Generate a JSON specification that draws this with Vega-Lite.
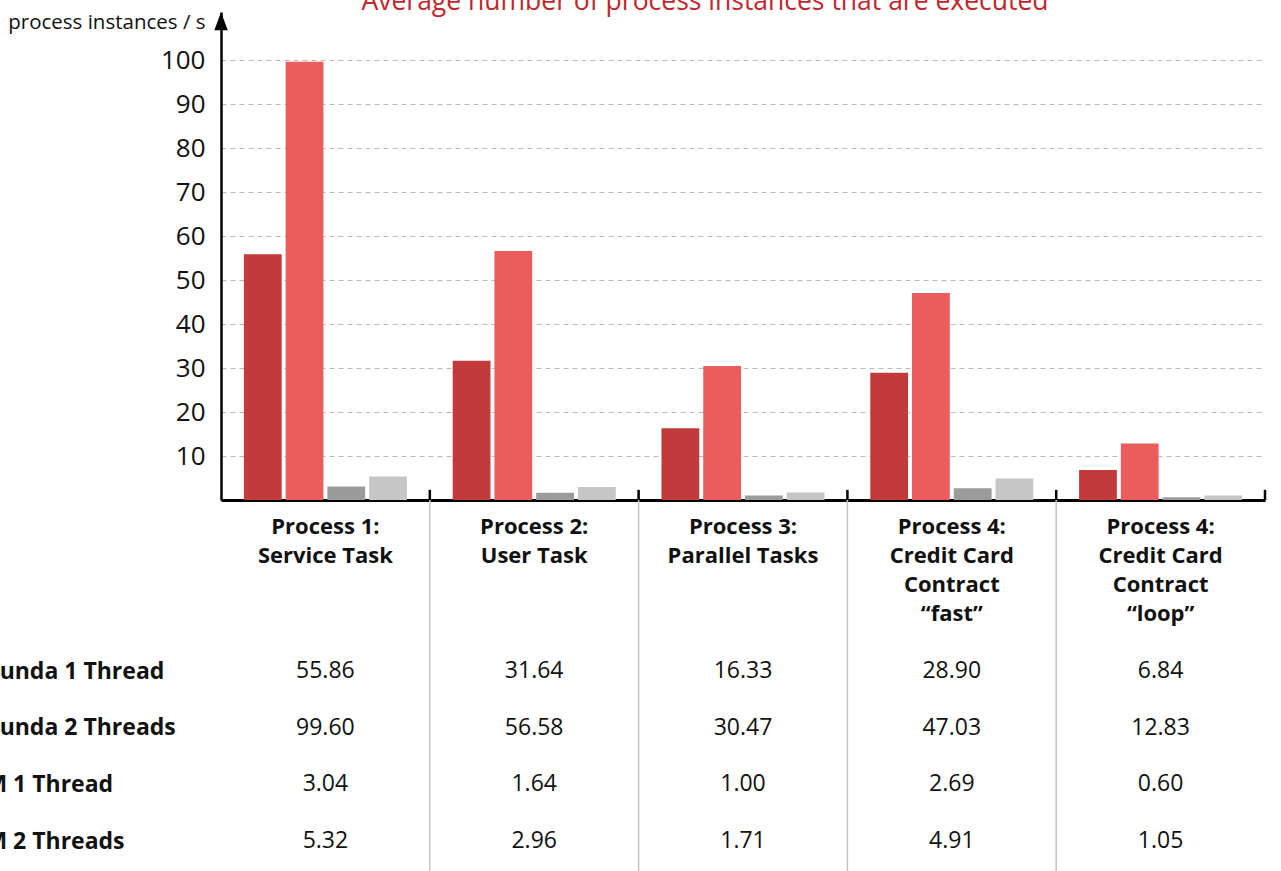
{
  "$schema": "https://vega.github.io/schema/vega-lite/v6.json",
  "autosize": {"type": "none"},
  "padding": {"left": 221, "top": 12, "right": 16, "bottom": 371},
  "width": 1044,
  "height": 488,
  "background": "white",
  "config": {"view": {"stroke": null}, "font": "Open Sans"},
  "title": {"text": "Average number of process instances that are executed", "color": "#C1272D", "fontSize": 26.5, "fontWeight": "normal", "font": "Open Sans", "anchor": "middle", "dx": -38, "offset": -3},
  "datasets": {
    "main": [
      {"cat": "Process 1:|Service Task", "series": "Camunda 1 Thread", "value": 55.86},
      {"cat": "Process 1:|Service Task", "series": "Camunda 2 Threads", "value": 99.60},
      {"cat": "Process 1:|Service Task", "series": "jBPM 1 Thread", "value": 3.04},
      {"cat": "Process 1:|Service Task", "series": "jBPM 2 Threads", "value": 5.32},
      {"cat": "Process 2:|User Task", "series": "Camunda 1 Thread", "value": 31.64},
      {"cat": "Process 2:|User Task", "series": "Camunda 2 Threads", "value": 56.58},
      {"cat": "Process 2:|User Task", "series": "jBPM 1 Thread", "value": 1.64},
      {"cat": "Process 2:|User Task", "series": "jBPM 2 Threads", "value": 2.96},
      {"cat": "Process 3:|Parallel Tasks", "series": "Camunda 1 Thread", "value": 16.33},
      {"cat": "Process 3:|Parallel Tasks", "series": "Camunda 2 Threads", "value": 30.47},
      {"cat": "Process 3:|Parallel Tasks", "series": "jBPM 1 Thread", "value": 1.00},
      {"cat": "Process 3:|Parallel Tasks", "series": "jBPM 2 Threads", "value": 1.71},
      {"cat": "Process 4:|Credit Card|Contract|“fast”", "series": "Camunda 1 Thread", "value": 28.90},
      {"cat": "Process 4:|Credit Card|Contract|“fast”", "series": "Camunda 2 Threads", "value": 47.03},
      {"cat": "Process 4:|Credit Card|Contract|“fast”", "series": "jBPM 1 Thread", "value": 2.69},
      {"cat": "Process 4:|Credit Card|Contract|“fast”", "series": "jBPM 2 Threads", "value": 4.91},
      {"cat": "Process 4:|Credit Card|Contract|“loop”", "series": "Camunda 1 Thread", "value": 6.84},
      {"cat": "Process 4:|Credit Card|Contract|“loop”", "series": "Camunda 2 Threads", "value": 12.83},
      {"cat": "Process 4:|Credit Card|Contract|“loop”", "series": "jBPM 1 Thread", "value": 0.60},
      {"cat": "Process 4:|Credit Card|Contract|“loop”", "series": "jBPM 2 Threads", "value": 1.05}
    ],
    "bounds": [
      {"cat": "Process 2:|User Task"},
      {"cat": "Process 3:|Parallel Tasks"},
      {"cat": "Process 4:|Credit Card|Contract|“fast”"},
      {"cat": "Process 4:|Credit Card|Contract|“loop”"}
    ],
    "first": [{"cat": "Process 1:|Service Task"}],
    "last": [{"cat": "Process 4:|Credit Card|Contract|“loop”"}]
  },
  "resolve": {"scale": {"y": "independent"}, "axis": {"y": "independent"}},
  "layer": [
    {
      "layer": [
        {
          "data": {"name": "main"},
          "mark": {"type": "bar"},
          "encoding": {
            "x": {"field": "cat", "type": "nominal",
              "scale": {"domain": ["Process 1:|Service Task", "Process 2:|User Task", "Process 3:|Parallel Tasks", "Process 4:|Credit Card|Contract|“fast”", "Process 4:|Credit Card|Contract|“loop”"], "paddingInner": 0, "paddingOuter": 0},
              "axis": {"title": null, "orient": "bottom", "labelExpr": "split(datum.label, '|')", "labelAngle": 0, "labelFontSize": 22, "labelFontWeight": "bold", "labelFont": "Open Sans", "labelColor": "#111111", "labelLineHeight": 29, "labelPadding": 16, "labelLimit": 0, "ticks": false, "domain": true, "domainColor": "#000000", "domainWidth": 3, "labelBaseline": "top"}},
            "xOffset": {"field": "series", "type": "nominal",
              "scale": {"domain": ["Camunda 1 Thread", "Camunda 2 Threads", "jBPM 1 Thread", "jBPM 2 Threads"], "paddingInner": 0.095, "paddingOuter": 0.548}},
            "y": {"field": "value", "type": "quantitative",
              "scale": {"domain": [0, 110.91], "nice": false, "zero": true},
              "axis": {"orient": "left", "values": [10, 20, 30, 40, 50, 60, 70, 80, 90, 100], "grid": true, "gridDash": [5, 4], "gridColor": "#bbbbbb", "gridWidth": 1, "ticks": false, "domain": true, "domainColor": "#000000", "domainWidth": 2.5, "labelFontSize": 26, "labelFont": "Open Sans", "labelColor": "#111111", "labelPadding": 16,
                "title": "process instances / s", "titleAngle": 0, "titleAlign": "right", "titleBaseline": "middle", "titleX": -16, "titleY": 10, "titleFontSize": 20.5, "titleFontWeight": "normal", "titleFont": "Open Sans", "titleColor": "#111111"}},
            "color": {"field": "series", "type": "nominal", "legend": null,
              "scale": {"domain": ["Camunda 1 Thread", "Camunda 2 Threads", "jBPM 1 Thread", "jBPM 2 Threads"], "range": ["#C23B3A", "#EB5C5C", "#9B9B9B", "#C5C6C5"]}}
          }
        },
        {
          "data": {"name": "bounds"},
          "mark": {"type": "rule", "color": "#c4c4c4", "strokeWidth": 1.5},
          "encoding": {
            "x": {"field": "cat", "type": "nominal", "bandPosition": 0},
            "y": {"datum": 0, "type": "quantitative"},
            "y2": {"datum": -90}
          }
        },
        {
          "data": {"name": "bounds"},
          "mark": {"type": "rule", "color": "#000000", "strokeWidth": 2.5},
          "encoding": {
            "x": {"field": "cat", "type": "nominal", "bandPosition": 0},
            "y": {"datum": 0, "type": "quantitative"},
            "y2": {"datum": 2.3}
          }
        },
        {
          "data": {"name": "last"},
          "mark": {"type": "rule", "color": "#000000", "strokeWidth": 2.5},
          "encoding": {
            "x": {"field": "cat", "type": "nominal", "bandPosition": 1},
            "y": {"datum": 0, "type": "quantitative"},
            "y2": {"datum": 2.3}
          }
        },
        {
          "data": {"name": "first"},
          "mark": {"type": "point", "shape": "M-0.75,1 L0,-1 L0.75,1 Z", "filled": true, "color": "#000000", "opacity": 1, "size": 324},
          "encoding": {
            "x": {"field": "cat", "type": "nominal", "bandPosition": 0},
            "y": {"datum": 108.8, "type": "quantitative"}
          }
        }
      ]
    },
    {
      "data": {"name": "main"},
      "mark": {"type": "text", "fontSize": 23, "font": "Open Sans", "color": "#111111", "baseline": "middle"},
      "encoding": {
        "x": {"field": "cat", "type": "nominal"},
        "y": {"field": "series", "type": "nominal",
          "scale": {"type": "point", "domain": ["Camunda 1 Thread", "Camunda 2 Threads", "jBPM 1 Thread", "jBPM 2 Threads"], "range": [659, 829], "padding": 0},
          "axis": {"orient": "left", "title": null, "domain": false, "ticks": false, "grid": false, "labelAlign": "left", "labelPadding": 273, "labelLimit": 0, "labelFontSize": 23, "labelFontWeight": "bold", "labelFont": "Open Sans", "labelColor": "#111111", "labelBaseline": "middle"}},
        "text": {"field": "value", "type": "quantitative", "format": ".2f"}
      }
    }
  ]
}
